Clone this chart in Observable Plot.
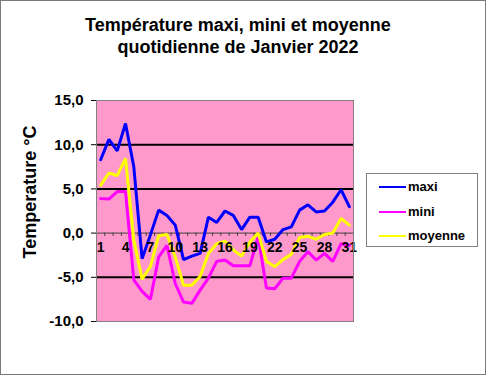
<!DOCTYPE html>
<html><head><meta charset="utf-8">
<script src="https://cdn.jsdelivr.net/npm/d3@7"></script>
<script src="https://cdn.jsdelivr.net/npm/@observablehq/plot@0.6"></script>
<style>
body{margin:0;background:#fff;}
#chart{position:relative;width:486px;height:375px;font-family:"Liberation Sans",Arial,sans-serif;overflow:hidden;background:#fff;}
#frame{position:absolute;left:0;top:0;width:486px;height:375px;box-sizing:border-box;border:1px solid #7a7a7a;pointer-events:none;}
#title{position:absolute;left:0;width:476px;top:14px;text-align:center;font-weight:bold;font-size:18px;line-height:22px;color:#000;}
#ylabel{position:absolute;left:30px;top:192px;transform:translate(-50%,-50%) rotate(-90deg);white-space:nowrap;font-weight:bold;font-size:18px;color:#000;}
#plot{position:absolute;left:0;top:0;}
#legend{position:absolute;left:366px;top:173px;width:112px;height:74px;box-sizing:border-box;border:1px solid #808080;background:#fff;}
.item{position:absolute;left:0;height:16px;font-weight:bold;font-size:13px;line-height:16px;}
.item span.sw{position:absolute;left:12px;top:7px;width:27px;height:2px;}
.item span.lb{position:absolute;left:41px;top:0;white-space:nowrap;}
</style></head>
<body>
<div id="chart">
  <div id="plot"></div>
  <div id="title">Température maxi, mini et moyenne<br>quotidienne de Janvier 2022</div>
  <div id="ylabel">Temperature °C</div>
  <div id="legend"></div>
  <div id="frame"></div>
</div>
<script>
const days = d3.range(1, 32);
const maxi = [8.3, 10.6, 9.3, 12.4, 7.5, -2.9, -0.2, 2.6, 2.0, 0.9, -3.0, -2.6, -2.3, 1.8, 1.2, 2.5, 2.0, 0.4, 1.8, 1.8, -1.0, -0.7, 0.4, 0.7, 2.6, 3.2, 2.4, 2.5, 3.5, 4.9, 3.0];
const mini = [3.9, 3.85, 4.7, 4.7, -5.3, -6.6, -7.5, -2.7, -1.4, -5.7, -7.8, -7.95, -6.45, -5.1, -3.2, -3.05, -3.7, -3.7, -3.7, -0.4, -6.2, -6.3, -5.1, -5.1, -3.2, -2.1, -3.05, -2.3, -3.2, -1.2, -1.4];
const moyenne = [5.4, 6.8, 6.5, 8.45, -0.8, -5.2, -3.8, -0.3, -0.15, -2.7, -5.9, -5.9, -4.9, -2.3, -1.2, -0.9, -1.9, -2.6, -1.0, 0.0, -3.2, -3.8, -3.0, -2.4, -0.5, -0.35, -0.7, -0.15, 0.0, 1.65, 0.9];
const seriesNames = ["maxi", "mini", "moyenne"];
const seriesColors = ["#0000FF", "#FF00FF", "#FFFF00"];
const yTicks = [-10, -5, 0, 5, 10, 15];
const xLabels = [1, 4, 7, 10, 13, 16, 19, 22, 25, 28, 31];
const gridValues = [10, 5, -5];

const seriesValues = [maxi, mini, moyenne];
const data = seriesNames.flatMap((name, s) => seriesValues[s].map((v, i) => ({day: days[i], value: v, serie: name})));
const bounds = d3.range(0, 32).map(d => d + 0.5);

const chart = Plot.plot({
  width: 486, height: 375,
  marginTop: 100, marginBottom: 54, marginLeft: 96, marginRight: 133,
  style: {fontFamily: "'Liberation Sans', Arial, sans-serif", background: "transparent", overflow: "visible"},
  x: {domain: [0.5, 31.5], axis: null},
  y: {domain: [-10, 15], axis: null},
  color: {domain: seriesNames, range: seriesColors},
  marks: [
    Plot.frame({fill: "#FF99CC", stroke: null}),
    Plot.ruleY(gridValues, {stroke: "#000", strokeWidth: 2}),
    Plot.ruleY([0], {stroke: "#404040", strokeWidth: 1}),
    Plot.ruleX(bounds, {x: d => d, y1: 0, y2: -0.38, stroke: "#404040", strokeWidth: 1}),
    Plot.axisY({ticks: yTicks, tickFormat: d => d.toFixed(1).replace(".", ","), tickSize: 5, tickPadding: 8, fontSize: 15, fontWeight: "bold", anchor: "left", label: null, color: "#000"}),
    Plot.line(data, {x: "day", y: "value", stroke: "serie", strokeWidth: 3, strokeLinejoin: "miter"}),
    Plot.text(xLabels, {x: d => d, y: 0, dy: 14, text: d => String(d), fontSize: 14, fontWeight: "bold", fill: "#000"}),
    Plot.frame({stroke: "#808080", strokeWidth: 1})
  ]
});
document.getElementById("plot").appendChild(chart);

const legend = document.getElementById("legend");
const rowTops = [5, 30, 54];
seriesNames.forEach((name, i) => {
  const item = document.createElement("div");
  item.className = "item";
  item.style.top = rowTops[i] + "px";
  item.innerHTML = `<span class="sw" style="background:${seriesColors[i]}"></span><span class="lb">${name}</span>`;
  legend.appendChild(item);
});
</script>
</body></html>
